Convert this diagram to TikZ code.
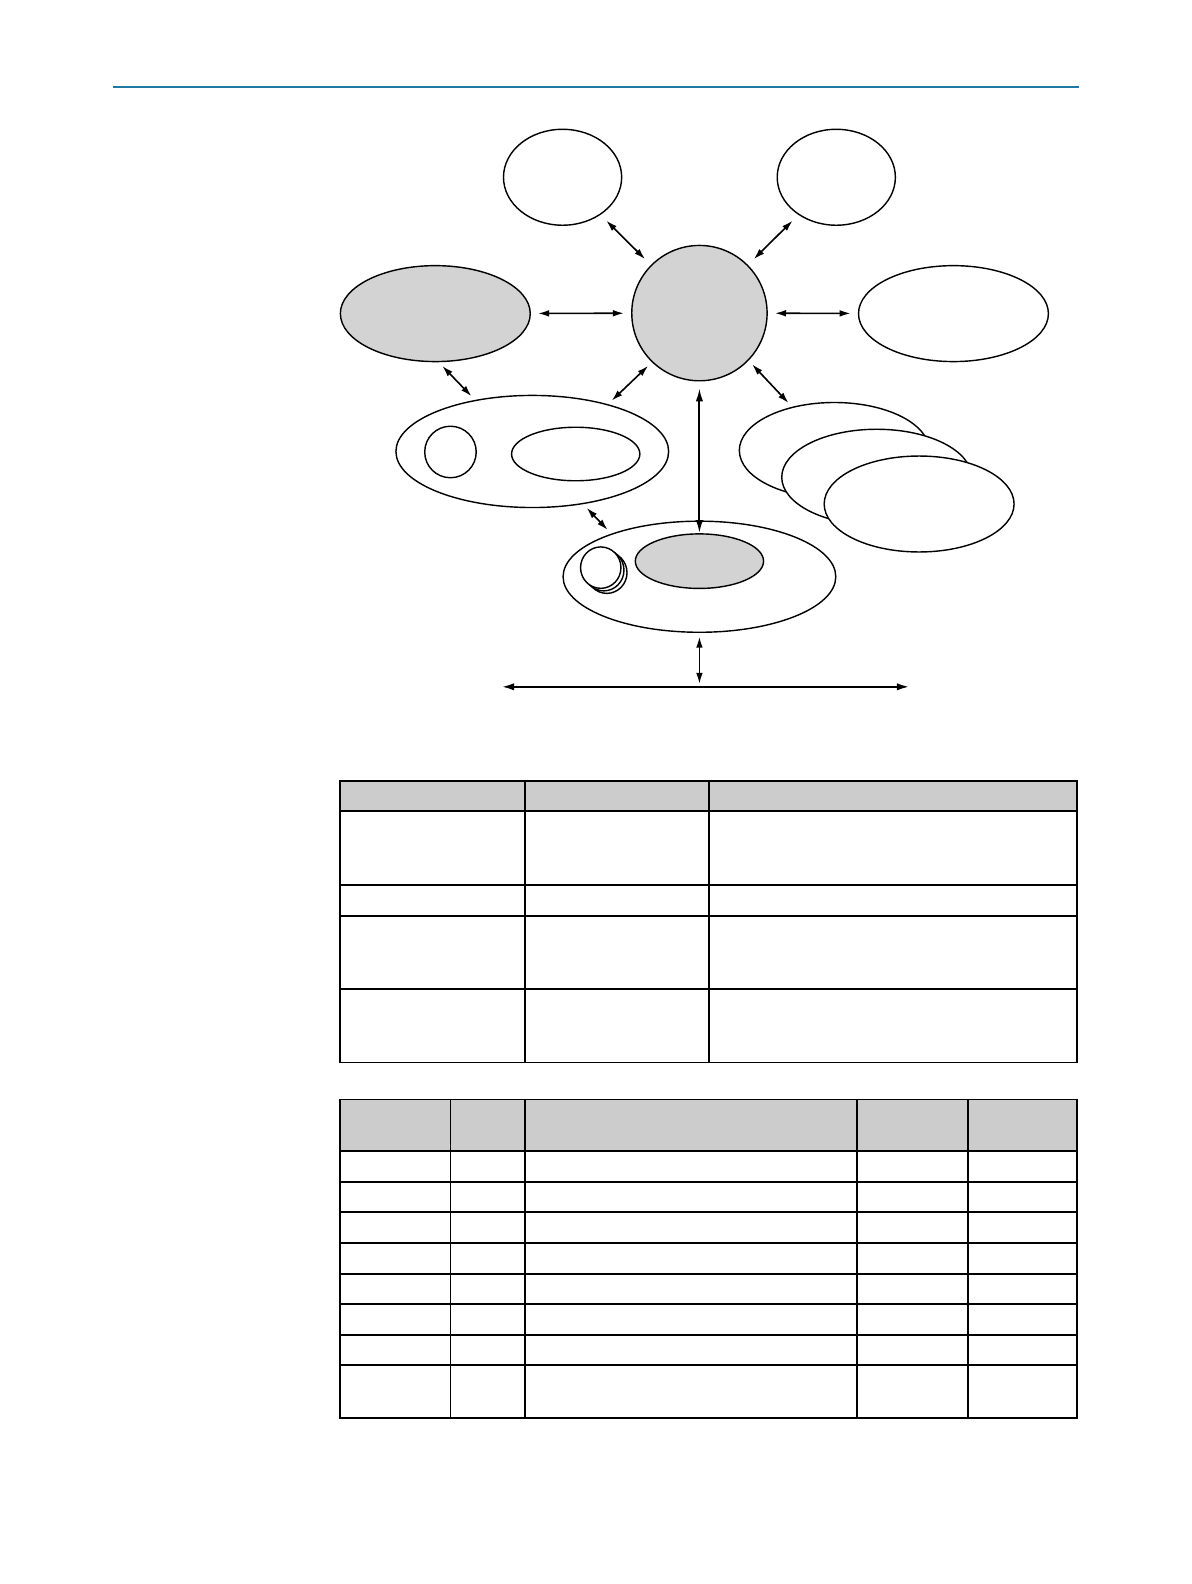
\documentclass[tikz,border=0pt]{standalone}
\usetikzlibrary{shapes.geometric,arrows.meta}
\definecolor{blobgray}{RGB}{211,211,211}
\definecolor{headgray}{RGB}{204,204,204}
\definecolor{pagerule}{RGB}{30,120,162}
\tikzset{
>={Latex[length=5.5pt,width=3.3pt]},
blob/.style={ellipse, draw, line width=0.7pt, inner sep=0pt, fill=white},
shaded/.style={blob, fill=blobgray},
blobsize/.style 2 args={minimum width=#1*0.5pt, minimum height=#2*0.5pt},
link/.style={<->, line width=0.8pt, shorten <=2.5pt, shorten >=2.5pt},
trunk/.style={<->, line width=1.2pt, >={Latex[length=6.5pt,width=3.6pt]}},
tablerule/.style={line width=0.9pt},
}

\begin{document}
\begin{tikzpicture}[x=0.5pt,y=-0.5pt]
    \useasboundingbox (0,-1) rectangle (1179.2,1567.3);

    % page rule
    \draw[pagerule, line width=1pt] (112,85.5) -- (1068,85.5);

    % outer blobs
    \node[blob, blobsize={117}{95}] (tl) at (557,174.5) {};
    \node[blob, blobsize={117}{95}] (tr) at (828,174.5) {};
    \node[shaded, blobsize={134}{134}] (hub) at (692.5,309) {};
    \node[shaded, blobsize={188}{95}] (lft) at (431,309.5) {};
    \node[blob, blobsize={188}{95}] (rgt) at (944,309.5) {};

    % left group
    \node[blob, blobsize={270}{111}] (grp) at (527,446) {};
    \node[blob, blobsize={51}{51}] (grpa) at (446,446.5) {};
    \node[blob, blobsize={127}{53}] (grpb) at (570,448.5) {};

    % stack
    \node[blob, blobsize={188}{95}] (stk1) at (826,445) {};
    \node[blob, blobsize={188}{95}] (stk2) at (868,471.5) {};
    \node[blob, blobsize={188}{95}] (stk3) at (910,498) {};

    % bottom group
    \node[blob, blobsize={270}{110}] (base) at (692.5,570) {};
    \node[shaded, blobsize={127}{54}] (core) at (692.5,554.6) {};
    \node[blob, blobsize={40}{41}] (dot3) at (600.8,566) {};
    \node[blob, blobsize={40}{41}] (dot2) at (597.8,563.5) {};
    \node[blob, blobsize={40}{41}] (dot1) at (594.8,561) {};

    % bus
    \coordinate (busL) at (496,679);
    \coordinate (busR) at (901,679);
    \coordinate (busM) at (692.5,679);

    \draw[link, shorten <=4pt, shorten >=4pt] (tl) -- (hub);
    \draw[link, shorten <=4pt, shorten >=4pt] (tr) -- (hub);
    \draw[link, shorten <=3.5pt, shorten >=3.5pt] (lft) -- (hub);
    \draw[link, shorten <=3.5pt, shorten >=3.5pt] (hub) -- (rgt);
    \draw[link] (lft.-86) -- (grp.138);
    \draw[link] (hub.-134) -- (grp.32);
    \draw[link] (hub.-44) -- (stk1.134);
    \draw[link] (grp.-46) -- (base.154);
    \draw[trunk, line width=1pt, shorten <=3.3pt] (hub) -- (core);
    \draw[link, shorten <=1.8pt, shorten >=1.4pt] (base) -- (busM);
    \draw[trunk] (busL) -- (busR);

    % table one
    \fill[headgray] (337,772) rectangle (1066.5,802);
    \foreach \y in {802,875,906,978}
        \draw[tablerule] (337,\y) -- (1066.5,\y);
    \foreach \x in {519.5,702}
        \draw[tablerule] (\x,772) -- (\x,1051);
    \draw[tablerule] (337,772) rectangle (1066.5,1051);

    % table two
    \fill[headgray] (337,1087.5) rectangle (1066.5,1138.6);
    \foreach \y in {1138.6,1169.6,1199.3,1230,1260.7,1290.4,1321,1350.8}
        \draw[tablerule] (337,\y) -- (1066.5,\y);
    \foreach \x in {446,519.5,848.5,958}
        \draw[tablerule] (\x,1087.5) -- (\x,1402.7);
    \draw[tablerule] (337,1087.5) rectangle (1066.5,1402.7);

\end{tikzpicture}
\end{document}
